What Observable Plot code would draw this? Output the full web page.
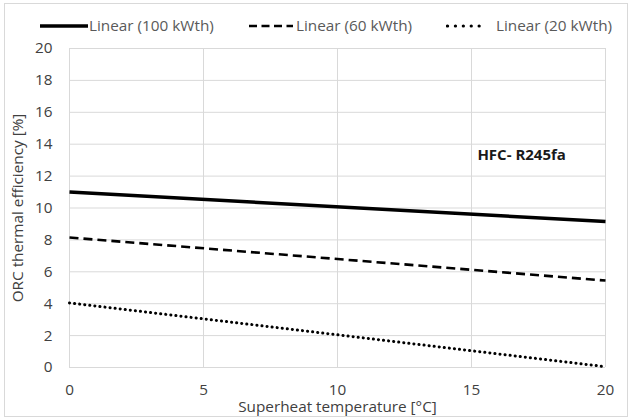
<!DOCTYPE html>
<html>
<head>
<meta charset="utf-8">
<script src="https://cdn.jsdelivr.net/npm/d3@7"></script>
<script src="https://cdn.jsdelivr.net/npm/@observablehq/plot@0.6"></script>
<style>
  html, body { margin: 0; padding: 0; background: #fff; }
  #chart { position: relative; width: 631px; height: 418px; font-family: "Open Sans", sans-serif; }
  #border { position: absolute; left: 4px; top: 3px; width: 622px; height: 412px; border: 1px solid #d9d9d9; pointer-events: none; }
  #legend { position: relative; height: 38px; font-size: 15.3px; color: #595959; }
  .item { position: absolute; top: 14px; height: 22px; display: flex; align-items: center; white-space: nowrap; }
  #plot svg { display: block; }
</style>
</head>
<body>
<div id="chart">
  <div id="border"></div>
  <div id="legend"></div>
  <div id="plot"></div>
</div>
<script>
// Superheat temperature (°C) at the ends of each linear trend
const superheat = [0, 20];
// ORC thermal efficiency (%) for each thermal input
const eff100 = [11.0, 9.15];
const eff60 = [8.15, 5.45];
const eff20 = [4.05, 0.05];
const seriesNames = ["Linear (100 kWth)", "Linear (60 kWth)", "Linear (20 kWth)"];
const xTicks = [0, 5, 10, 15, 20];
const yTicks = [0, 2, 4, 6, 8, 10, 12, 14, 16, 18, 20];
const fluidLabel = "HFC- R245fa";
const fluidPos = {x: 15.22, y: 13.3};

// line style per series, plus legend swatch layout
const styles = [
  {strokeWidth: 3.6, dash: null, cap: "butt", left: 40, swatch: 48, gap: 1},
  {strokeWidth: 2.6, dash: "9,5", cap: "butt", left: 249, swatch: 44, gap: 3},
  {strokeWidth: 3.0, dash: "0.1,5", cap: "round", left: 446, swatch: 41, gap: 9}
];
const legendDash = [null, "8,4.5", "0.1,7.8"];

const rows = [];
[eff100, eff60, eff20].forEach((vals, i) => {
  superheat.forEach((x, j) => rows.push({series: seriesNames[i], x, y: vals[j]}));
});

// legend
const legend = document.getElementById("legend");
seriesNames.forEach((name, i) => {
  const s = styles[i];
  const item = document.createElement("div");
  item.className = "item";
  item.style.left = s.left + "px";
  const round = s.cap === "round";
  item.innerHTML = `<svg width="${s.swatch}" height="10" style="margin-right:${s.gap}px;margin-top:2px"><line x1="${round ? 1.5 : 0}" y1="5" x2="${s.swatch}" y2="5" stroke="#000" stroke-width="${round ? 3.2 : s.strokeWidth}" ${legendDash[i] ? `stroke-dasharray="${legendDash[i]}"` : ""} stroke-linecap="${s.cap}"/></svg><span>${name}</span>`;
  legend.appendChild(item);
});

const lineMarks = seriesNames.map((name, i) => Plot.line(rows.filter(d => d.series === name), {
  x: "x", y: "y",
  stroke: "#000",
  strokeWidth: styles[i].strokeWidth,
  strokeDasharray: styles[i].dash,
  strokeLinecap: styles[i].cap
}));

const plot = Plot.plot({
  width: 631,
  height: 380,
  marginTop: 10,
  marginLeft: 69,
  marginRight: 26,
  marginBottom: 51,
  style: {fontFamily: "Open Sans, sans-serif", fontSize: "15.3px", color: "#404040", background: "transparent"},
  x: {domain: [0, 20], ticks: xTicks, label: null},
  y: {domain: [0, 20], ticks: yTicks, label: null},
  marks: [
    Plot.gridX(xTicks, {stroke: "#d9d9d9", strokeOpacity: 1, strokeWidth: 1}),
    Plot.gridY(yTicks, {stroke: "#d9d9d9", strokeOpacity: 1, strokeWidth: 1}),
    Plot.axisX(xTicks, {tickSize: 0, tickPadding: 17, fontSize: 15.3}),
    Plot.axisY(yTicks, {tickSize: 0, tickPadding: 17, fontSize: 15.3}),
    ...lineMarks,
    Plot.text([fluidLabel], {x: () => fluidPos.x, y: () => fluidPos.y, text: d => d, textAnchor: "start", fontWeight: "bold", fontSize: 15, fill: "#1a1a1a"}),
    Plot.text(["Superheat temperature [°C]"], {frameAnchor: "bottom", dy: 40, lineAnchor: "middle", textAnchor: "middle", fontSize: 15.3, fill: "#404040"}),
    Plot.text(["ORC thermal efficiency [%]"], {frameAnchor: "left", dx: -51, rotate: -90, textAnchor: "middle", lineAnchor: "middle", fontSize: 15.3, fill: "#404040"})
  ]
});
document.getElementById("plot").appendChild(plot);
</script>
</body>
</html>
